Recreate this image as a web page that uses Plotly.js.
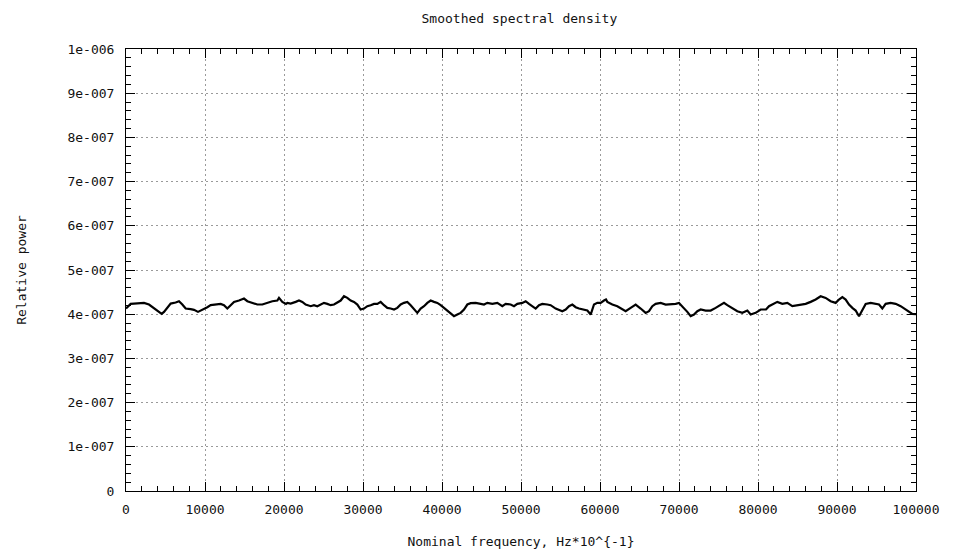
<!DOCTYPE html>
<html>
<head>
<meta charset="utf-8">
<script src="https://cdn.plot.ly/plotly-3.0.1.min.js"></script>
<style>html,body{margin:0;padding:0;background:#fff;}#chart{width:953px;height:554px;}</style>
</head>
<body>
<div id="chart"></div>
<script>
// Nominal frequency (Hz*10^-1)
const freq = [0,253,591,1013,1646,2278,2911,3544,4177,4515,4810,5232,5654,6287,6709,7131,7553,8186,8608,9114,9451,9873,
10295,10717,11350,11983,12405,12827,13249,13671,14304,14937,15359,15991,16624,17257,17890,18523,19156,19367,19789,20253,
20422,20844,21477,21899,22321,22743,23376,23797,24219,24641,25063,25485,25907,26329,26751,27173,27595,28017,28439,28861,29283,29705,
30127,30549,30971,31392,31814,32236,32658,33080,33502,33924,34346,34768,35190,35612,36034,36456,36878,37300,37722,38144,38566,38987,39409,39831,40506,
41097,41519,41941,42363,42785,43207,43629,44262,44895,45316,45738,46371,47004,47637,48059,48692,49114,49536,50168,50590,51012,51434,51856,52278,52700,
53333,53755,54388,54810,55232,55654,56076,56498,56920,57342,57975,58397,58819,59241,59663,60084,60506,60759,
60928,61561,62194,62827,63249,63882,64515,65147,65780,66202,66624,67046,67679,68312,68945,69578,70000,70422,71055,71477,71899,72321,72743,
73376,74008,74641,75274,75696,76118,76540,76962,77384,78017,78650,79072,79705,80338,81013,
81392,82025,82447,83080,83713,84346,84979,85611,86033,86666,87299,87932,88565,89198,89831,90253,90675,91097,91519,91941,92363,92785,
93207,93629,94262,94895,95316,95738,96160,96793,97426,98059,98692,99114,99536,100000];

// Relative power
const power = [4.128e-7,4.181e-7,4.234e-7,4.241e-7,4.256e-7,4.256e-7,4.219e-7,4.143e-7,4.053e-7,4.008e-7,4.053e-7,4.143e-7,4.241e-7,4.264e-7,4.294e-7,4.219e-7,4.128e-7,4.113e-7,4.098e-7,4.053e-7,4.083e-7,4.106e-7,
4.158e-7,4.204e-7,4.219e-7,4.234e-7,4.204e-7,4.128e-7,4.204e-7,4.279e-7,4.309e-7,4.354e-7,4.294e-7,4.256e-7,4.219e-7,4.219e-7,4.256e-7,4.294e-7,4.309e-7,4.369e-7,4.279e-7,4.234e-7,
4.256e-7,4.241e-7,4.279e-7,4.309e-7,4.279e-7,4.219e-7,4.181e-7,4.204e-7,4.181e-7,4.219e-7,4.256e-7,4.234e-7,4.204e-7,4.219e-7,4.256e-7,4.309e-7,4.407e-7,4.369e-7,4.309e-7,4.279e-7,4.219e-7,4.106e-7,
4.128e-7,4.181e-7,4.204e-7,4.234e-7,4.234e-7,4.279e-7,4.204e-7,4.143e-7,4.128e-7,4.106e-7,4.143e-7,4.219e-7,4.256e-7,4.279e-7,4.204e-7,4.106e-7,4.030e-7,4.128e-7,4.181e-7,4.256e-7,4.309e-7,4.279e-7,4.256e-7,4.204e-7,4.106e-7,
4.030e-7,3.955e-7,3.992e-7,4.030e-7,4.106e-7,4.219e-7,4.249e-7,4.256e-7,4.234e-7,4.219e-7,4.256e-7,4.234e-7,4.256e-7,4.181e-7,4.234e-7,4.219e-7,4.181e-7,4.234e-7,4.256e-7,4.294e-7,4.234e-7,4.181e-7,4.128e-7,4.204e-7,4.234e-7,
4.219e-7,4.204e-7,4.128e-7,4.106e-7,4.068e-7,4.106e-7,4.181e-7,4.219e-7,4.158e-7,4.128e-7,4.106e-7,4.083e-7,3.992e-7,4.219e-7,4.256e-7,4.256e-7,4.309e-7,4.332e-7,
4.279e-7,4.219e-7,4.181e-7,4.106e-7,4.068e-7,4.143e-7,4.219e-7,4.128e-7,4.030e-7,4.068e-7,4.181e-7,4.234e-7,4.256e-7,4.219e-7,4.219e-7,4.234e-7,4.256e-7,4.181e-7,4.053e-7,3.955e-7,3.992e-7,4.068e-7,4.106e-7,
4.083e-7,4.083e-7,4.143e-7,4.204e-7,4.256e-7,4.204e-7,4.158e-7,4.128e-7,4.068e-7,4.030e-7,4.083e-7,3.992e-7,4.030e-7,4.106e-7,4.106e-7,
4.181e-7,4.234e-7,4.279e-7,4.234e-7,4.256e-7,4.181e-7,4.204e-7,4.234e-7,4.234e-7,4.279e-7,4.332e-7,4.407e-7,4.369e-7,4.294e-7,4.256e-7,4.332e-7,4.385e-7,4.332e-7,4.219e-7,4.143e-7,4.083e-7,3.955e-7,
4.106e-7,4.234e-7,4.256e-7,4.234e-7,4.219e-7,4.128e-7,4.234e-7,4.256e-7,4.234e-7,4.181e-7,4.106e-7,4.053e-7,4.008e-7,4.000e-7];

const xTickVals = [0,10000,20000,30000,40000,50000,60000,70000,80000,90000,100000];
const xTickText = ["0","10000","20000","30000","40000","50000","60000","70000","80000","90000","100000"];
const yTickVals = [0,1e-7,2e-7,3e-7,4e-7,5e-7,6e-7,7e-7,8e-7,9e-7,1e-6];
const yTickText = ["0","1e-007","2e-007","3e-007","4e-007","5e-007","6e-007","7e-007","8e-007","9e-007","1e-006"];

const FONT = "DejaVu Sans Mono, Liberation Mono, monospace";

const trace = {
  x: freq, y: power, type: 'scatter', mode: 'lines',
  line: {color: '#000000', width: 2.2},
  hoverinfo: 'skip', showlegend: false
};

const axisCommon = {
  showline: true, linecolor: '#000000', linewidth: 1, mirror: 'allticks',
  ticks: 'inside', ticklen: 9, tickwidth: 1, tickcolor: '#000000',
  showgrid: true, gridcolor: '#9a9a9a', gridwidth: 1, griddash: '2px,3px',
  zeroline: false, tickmode: 'array',
  tickfont: {family: FONT, size: 13, color: '#111111'}
};

const layout = {
  width: 953, height: 554,
  margin: {l: 126, r: 37, t: 49, b: 63},
  paper_bgcolor: '#ffffff', plot_bgcolor: '#ffffff',
  title: {text: 'Smoothed spectral density', x: 0.545, xanchor: 'center', y: 0.966, yanchor: 'middle',
          font: {family: FONT, size: 13, color: '#111111'}},
  xaxis: Object.assign({}, axisCommon, {
    range: [0, 100000], tickvals: xTickVals, ticktext: xTickText, ticklabelstandoff: 6,
    minor: {tickmode: 'linear', tick0: 0, dtick: 2000, ticks: 'inside', ticklen: 5, tickcolor: '#000000', showgrid: false},
    title: {text: 'Nominal frequency, Hz*10^{-1}', standoff: 21, font: {family: FONT, size: 13, color: '#111111'}}
  }),
  yaxis: Object.assign({}, axisCommon, {
    range: [0, 1e-6], tickvals: yTickVals, ticktext: yTickText, ticklabelstandoff: 8,
    minor: {tickmode: 'linear', tick0: 0, dtick: 2e-8, ticks: 'inside', ticklen: 5, tickcolor: '#000000', showgrid: false},
    title: {text: 'Relative power', standoff: 37, font: {family: FONT, size: 13, color: '#111111'}}
  })
};

Plotly.newPlot('chart', [trace], layout, {staticPlot: true, displayModeBar: false});
</script>
</body>
</html>
